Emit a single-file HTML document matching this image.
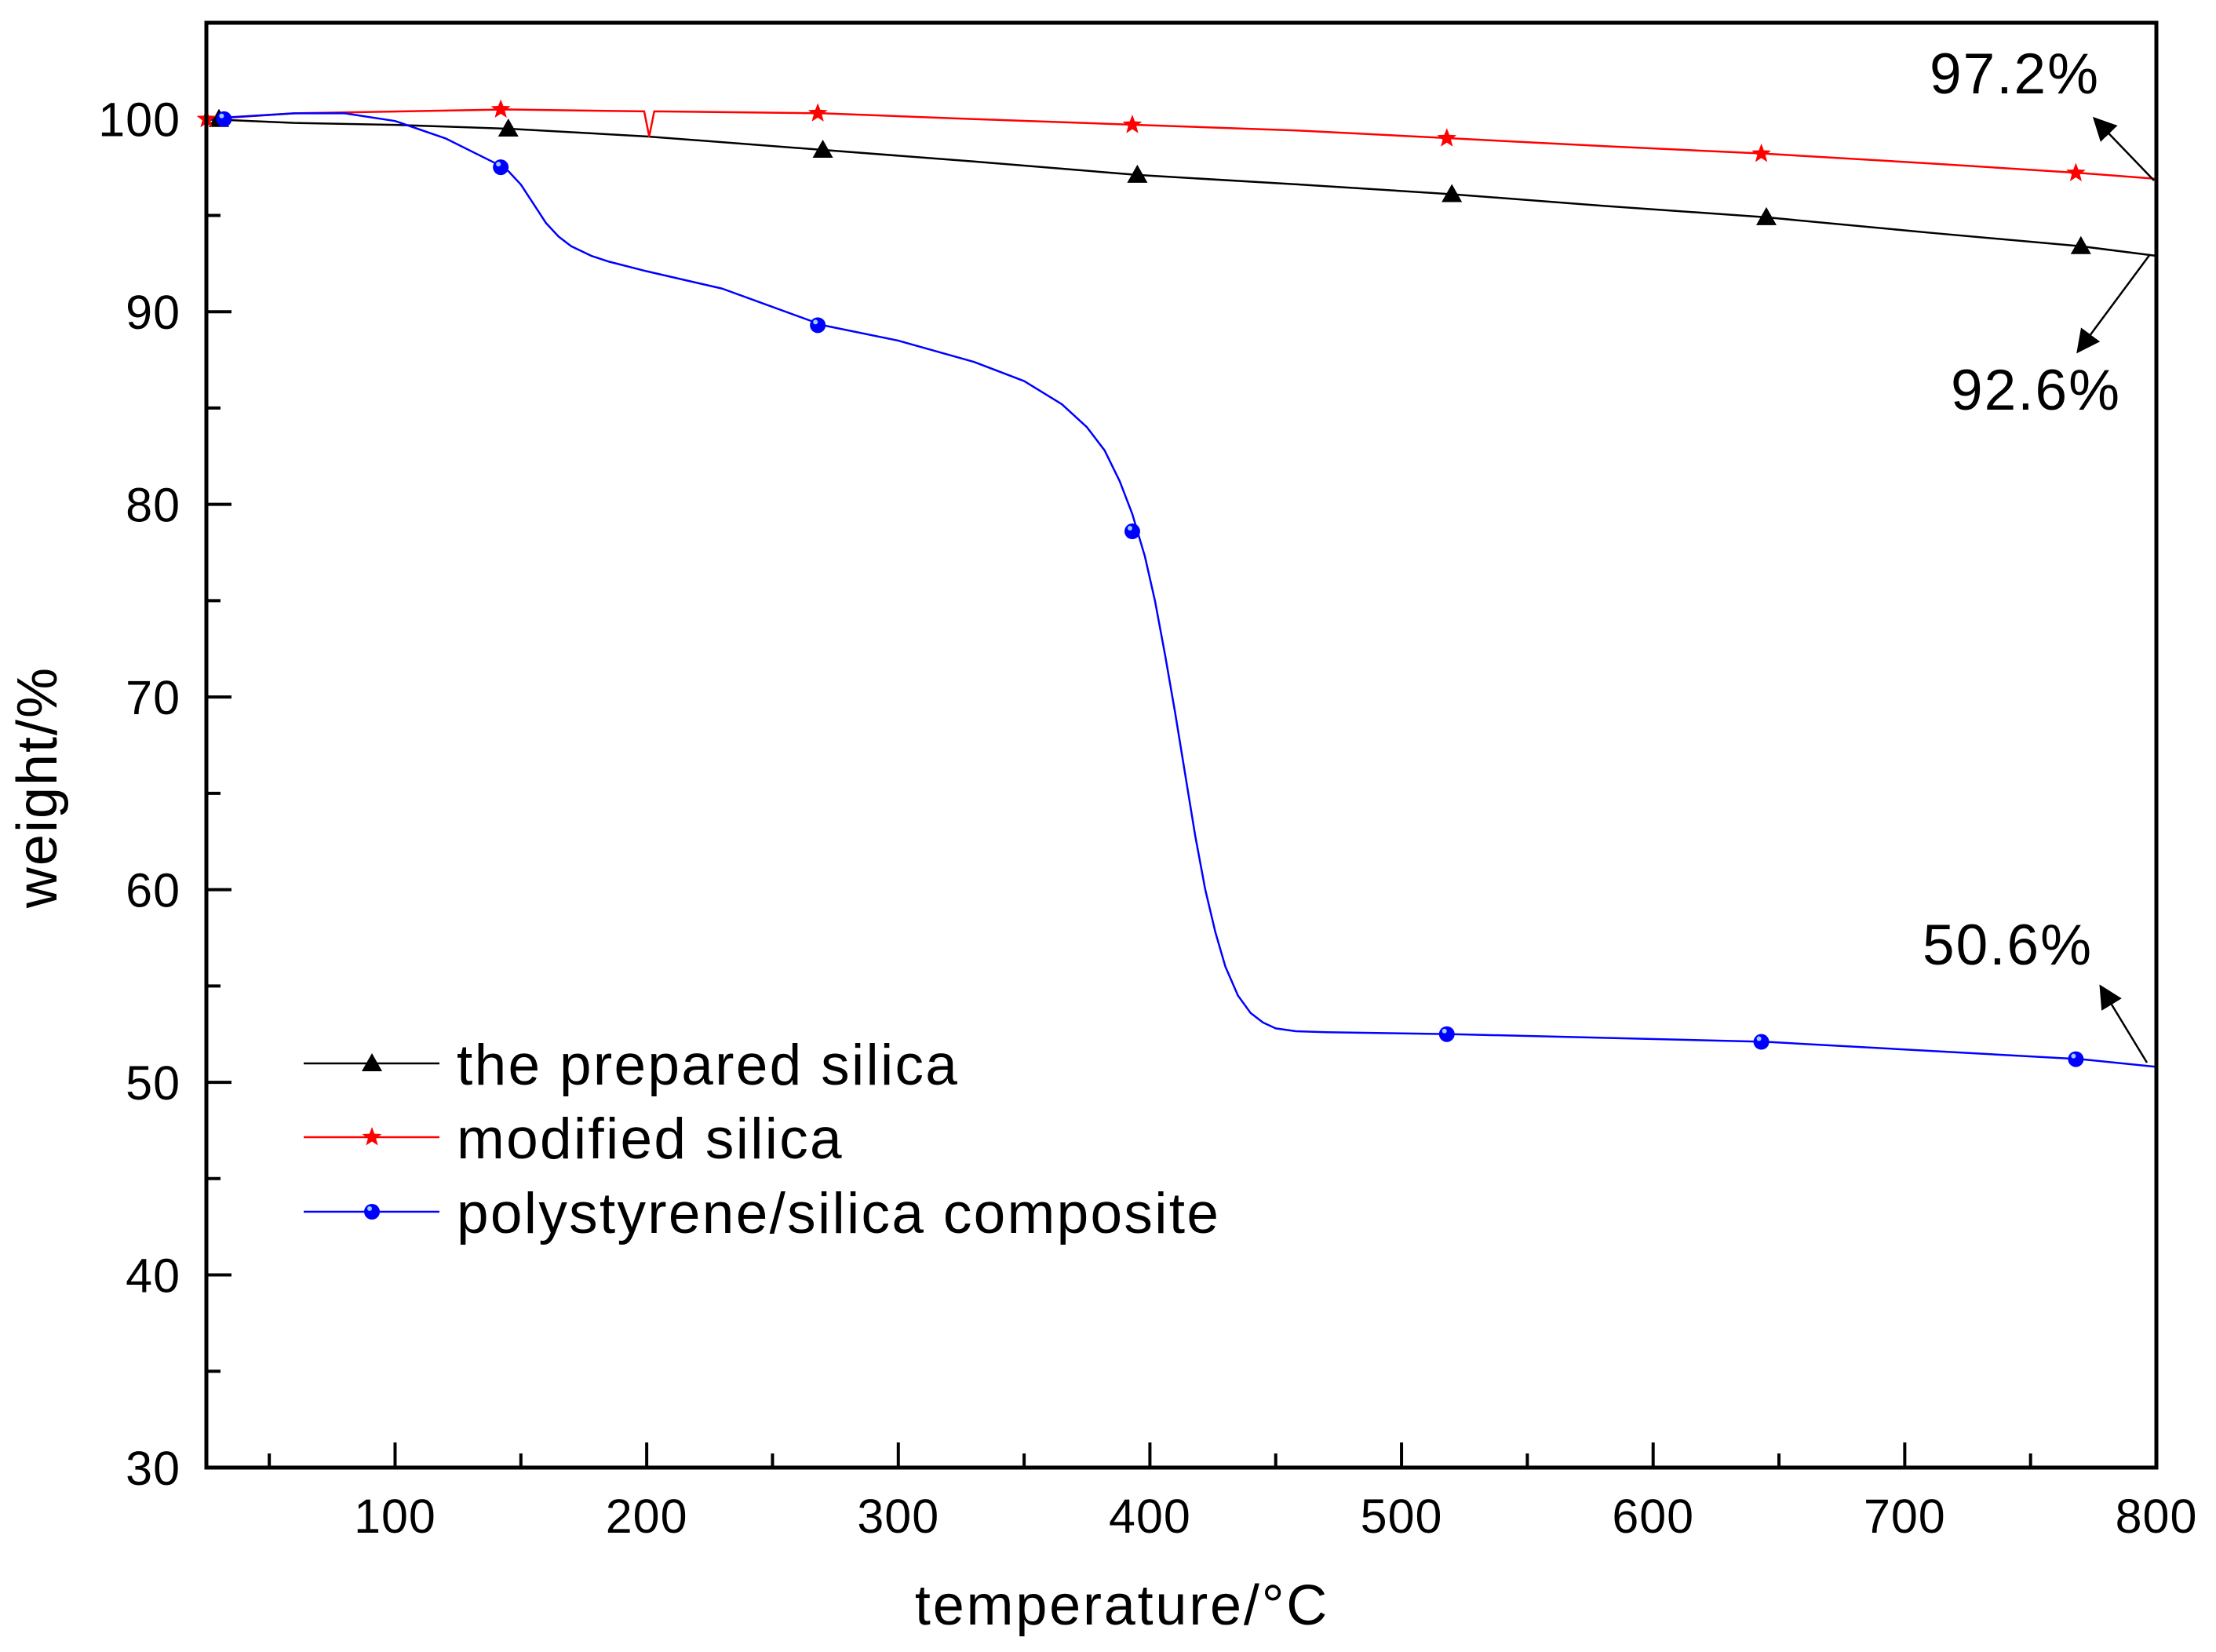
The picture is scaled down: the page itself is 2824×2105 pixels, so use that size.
<!DOCTYPE html>
<html><head><meta charset="utf-8"><style>
html,body{margin:0;padding:0;background:#fff}
svg{display:block;font-family:"Liberation Sans",Arial,sans-serif}
</style></head><body>
<svg id="chart" width="2824" height="2105" viewBox="0 0 2824 2105" xmlns="http://www.w3.org/2000/svg">
<g id="plot"></g>
</svg>
<script>
const xTicks = [100,200,300,400,500,600,700,800];
const yTicks = [30,40,50,60,70,80,90,100];
const blackT = [25,60,100,145,200,270,330,395,460,520,580,645,710,770,800];
const blackW = [100,99.8,99.7,99.5,99.1,98.4,97.8,97.1,96.6,96.1,95.5,94.9,94.1,93.4,92.9];
const blackMT = [30,145,270,395,520,645,770];
const blackMW = [100,99.5,98.4,97.1,96.1,94.9,93.4];
const redT = [25,60,145,199,201,203,270,330,395,460,520,580,645,710,770,800];
const redW = [100,100.3,100.5,100.4,99.1,100.4,100.3,100.0,99.7,99.4,99.0,98.6,98.2,97.7,97.2,96.9];
const redMT = [25,142,268,393,518,643,768];
const redMW = [100,100.5,100.3,99.7,99.0,98.2,97.2];
const blueT = [25,35,60,80,100,120,140,145,150,155,160,165,170,178,185,200,230,270,300,330,350,365,375,382,388,393,398,402,406,410,414,418,422,426,430,435,440,445,450,458,470,520,645,770,800];
const blueW = [100,100.1,100.3,100.3,99.9,99.0,97.7,97.3,96.6,95.6,94.6,93.9,93.4,92.9,92.6,92.1,91.2,89.3,88.5,87.4,86.4,85.2,84.0,82.8,81.2,79.5,77.3,75.0,72.2,69.2,66.0,62.8,60.0,57.8,56.0,54.5,53.6,53.1,52.8,52.65,52.6,52.5,52.1,51.2,50.8];
const blueMT = [32,142,268,393,518,643,768];
const blueMW = [100,97.5,89.3,78.6,52.5,52.1,51.2];

const L=263,R=2748,T=29,B=1870,XMIN=25,XMAX=800,YMIN=30,YMAX=105;
const xs=v=>L+(v-XMIN)/(XMAX-XMIN)*(R-L);
const ys=v=>B-(v-YMIN)/(YMAX-YMIN)*(B-T);
const NS="http://www.w3.org/2000/svg";
const g=document.getElementById('plot');
function mk(tag,attrs,parent){const e=document.createElementNS(NS,tag);for(const k in attrs)e.setAttribute(k,attrs[k]);(parent||g).appendChild(e);return e;}

for(let v=50;v<=800;v+=50){
  if(v<XMIN)continue;
  const major=v%100===0;
  const t=mk('line',{x1:xs(v),x2:xs(v),y1:B,y2:B-(major?32:18),stroke:'#000','stroke-width':4});
  
  
}
for(let v=35;v<=105;v+=5){
  const major=v%10===0;
  const t=mk('line',{x1:L,x2:L+(major?32:18),y1:ys(v),y2:ys(v),stroke:'#000','stroke-width':4});
  
  
}
xTicks.forEach(v=>{
  const t=mk('text',{x:xs(v),y:1953,'font-size':61,'text-anchor':'middle',fill:'#000','letter-spacing':1});
  t.textContent=v;
  
  
});
yTicks.forEach(v=>{
  const t=mk('text',{x:230,y:ys(v)+22,'font-size':61,'text-anchor':'end',fill:'#000','letter-spacing':1});
  t.textContent=v;
  
  
});

function line(ts,ws,color,name){
  const p=mk('polyline',{points:ts.map((t,i)=>xs(t)+','+ys(ws[i])).join(' '),fill:'none',stroke:color,'stroke-width':2.5,'stroke-linejoin':'round'});
  
  
}
line(blackT,blackW,'#000','prepared-silica-line');
line(redT,redW,'#f00','modified-silica-line');
line(blueT,blueW,'#00f','composite-line');

function tri(x,y,parent){return mk('polygon',{points:`${x},${y-13} ${x-13},${y+10} ${x+13},${y+10}`,fill:'#000'},parent);}
function star(x,y,parent){let pts=[];for(let i=0;i<10;i++){const r=i%2?5.5:13,a=-Math.PI/2+i*Math.PI/5;pts.push((x+r*Math.cos(a)).toFixed(1)+','+(y+r*Math.sin(a)).toFixed(1));}return mk('polygon',{points:pts.join(' '),fill:'#f00'},parent);}
function dot(x,y,parent){const c=mk('circle',{cx:x,cy:y,r:10,fill:'#00f'},parent);mk('circle',{cx:x-3,cy:y-4,r:3,fill:'#9cf'},parent);return c;}
blackMT.forEach((t,i)=>{const m=tri(xs(t),ys(blackMW[i]));
  
  });
redMT.forEach((t,i)=>{const m=star(xs(t),ys(redMW[i]));
  
  });
blueMT.forEach((t,i)=>{const m=dot(xs(t),ys(blueMW[i]));
  
  });

const f=mk('rect',{x:L,y:T,width:R-L,height:B-T,fill:'none',stroke:'#000','stroke-width':5});



const leg=[['#000','the prepared silica',tri,1355],['#f00','modified silica',star,1449],['#00f','polystyrene/silica composite',dot,1544]];
leg.forEach(([c,label,fn,y])=>{
  const lg=mk('g',{});
  
  
  mk('line',{x1:387,x2:560,y1:y,y2:y,stroke:c,'stroke-width':2.5},lg);
  fn(474,y,lg);
  const t=mk('text',{x:582,y:y+27,'font-size':73,fill:'#000','letter-spacing':2.3},lg);
  t.textContent=label;
});

const defs=mk('defs',{});
const mkr=mk('marker',{id:'ah',markerWidth:30,markerHeight:30,refX:9,refY:5,orient:'auto',markerUnits:'userSpaceOnUse',viewBox:'0 0 10 10'},defs);
mk('path',{d:'M0,0 L10,5 L0,10 z',fill:'#000'},mkr);
const ann=[['97.2%',2459,119,2745,230,2669,151],['92.6%',2486,522,2740,324,2648,448],['50.6%',2450,1229,2736,1354,2677,1257]];
ann.forEach(([txt,tx,ty,x1,y1,x2,y2])=>{
  const a=mk('line',{x1,y1,x2,y2,stroke:'#000','stroke-width':2.5,'marker-end':'url(#ah)'});
  
  
  const t=mk('text',{x:tx,y:ty,'font-size':73,fill:'#000','letter-spacing':2});
  t.textContent=txt;
  
  
});

const xt=mk('text',{x:1430,y:2070,'font-size':72,'text-anchor':'middle',fill:'#000','letter-spacing':2.8});
xt.textContent='temperature/°C';


const yt=mk('text',{x:0,y:0,'font-size':72,'text-anchor':'middle',fill:'#000','letter-spacing':2,transform:'translate(72,1003) rotate(-90)'});
yt.textContent='weight/%';


</script>
</body></html>
